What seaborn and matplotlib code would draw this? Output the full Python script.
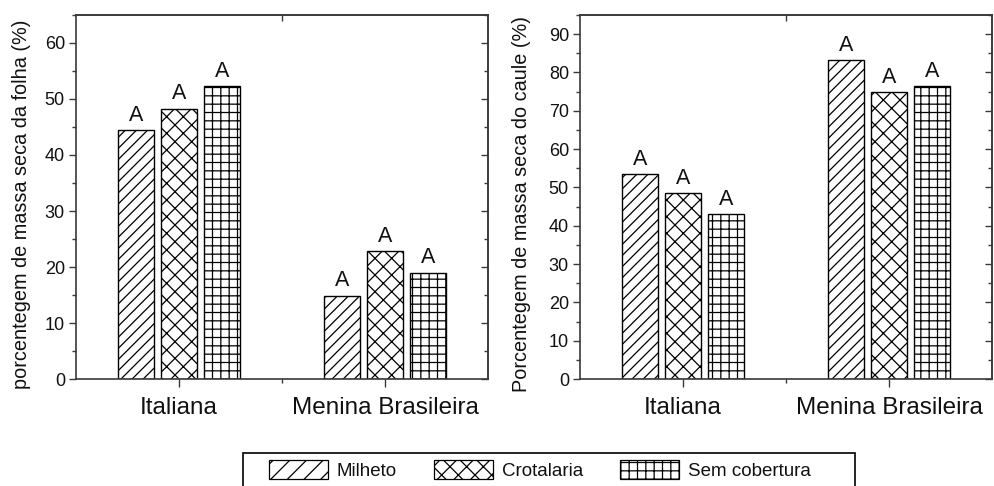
import numpy as np
import pandas as pd
import matplotlib
matplotlib.use("Agg")
import matplotlib.pyplot as plt
import seaborn as sns
from matplotlib.patches import Patch, Rectangle
from matplotlib.ticker import MultipleLocator, FixedLocator, NullFormatter

# ---- data ----
cultivars = ["Italiana", "Menina Brasileira"]
coverings = ["Milheto", "Crotalaria", "Sem cobertura"]
folha_milheto = [44.4, 14.9]
folha_crotalaria = [48.3, 22.9]
folha_sem = [52.3, 19.0]
caule_milheto = [53.5, 83.3]
caule_crotalaria = [48.6, 74.8]
caule_sem = [43.0, 76.4]
letters_folha = [["A", "A"], ["A", "A"], ["A", "A"]]
letters_caule = [["A", "A"], ["A", "A"], ["A", "A"]]
ylabel_folha = "porcentegem de massa seca da folha (%)"
ylabel_caule = "Porcentegem de massa seca do caule (%)"
hatches = ["///", "xx", "++"]


def long_df(a, b, c):
    rows = []
    for cov, vals in zip(coverings, [a, b, c]):
        for cul, v in zip(cultivars, vals):
            rows.append({"cultivar": cul, "cobertura": cov, "valor": v})
    return pd.DataFrame(rows)


df_folha = long_df(folha_milheto, folha_crotalaria, folha_sem)
df_caule = long_df(caule_milheto, caule_crotalaria, caule_sem)

sns.set_theme(style="ticks")
plt.rcParams["font.family"] = ["Liberation Sans", "DejaVu Sans"]
plt.rcParams["hatch.linewidth"] = 0.9
plt.rcParams["hatch.color"] = "black"
plt.rcParams["text.color"] = "#111111"
plt.rcParams["xtick.labelcolor"] = "#111111"
plt.rcParams["ytick.labelcolor"] = "#111111"
plt.rcParams["axes.labelcolor"] = "#111111"

W, H = 994, 486
fig = plt.figure(figsize=(W / 100, H / 100), dpi=100)
ax1 = fig.add_axes([76 / W, 107 / H, 412 / W, 364 / H])
ax2 = fig.add_axes([580 / W, 107 / H, 412 / W, 364 / H])

spine_col = "#3a3a3a"

for ax, df, ymax, ylab, letters, lx in [
    (ax1, df_folha, 65, ylabel_folha, letters_folha, -0.109),
    (ax2, df_caule, 95, ylabel_caule, letters_caule, -0.119),
]:
    sns.barplot(
        data=df, x="cultivar", y="valor", hue="cobertura",
        order=cultivars, hue_order=coverings,
        palette=["white"] * 3, saturation=1,
        width=0.63, gap=0.17, edgecolor="black", linewidth=1.0,
        errorbar=None, legend=False, ax=ax,
    )
    for cont, h, lab in zip(ax.containers, hatches, letters):
        for p in cont:
            p.set_hatch(h)
        ax.bar_label(cont, labels=lab, padding=3, fontsize=15.5)
    ax.set_xlim(-0.5, 1.5)
    ax.set_ylim(0, ymax)
    ax.set_xlabel("")
    ax.set_ylabel(ylab, fontsize=14.3)
    ax.yaxis.set_label_coords(lx, 0.48)
    ax.yaxis.set_major_locator(MultipleLocator(10))
    ax.yaxis.set_minor_locator(MultipleLocator(5))
    ax.xaxis.set_minor_locator(FixedLocator([0.5]))
    ax.tick_params(axis="y", which="major", direction="out", length=5,
                   width=1, labelsize=13, color=spine_col, pad=3)
    ax.tick_params(axis="y", which="minor", direction="out", length=3,
                   width=1, color=spine_col)
    ax.tick_params(axis="x", which="major", direction="out", length=6,
                   width=1, labelsize=17.5, color=spine_col, pad=7)
    ax.tick_params(axis="x", which="minor", direction="out", length=3,
                   width=1, color=spine_col)
    for s in ax.spines.values():
        s.set_color(spine_col)
        s.set_linewidth(1.2)
    # mirrored inward ticks on right and top
    sy = ax.secondary_yaxis("right")
    sy.yaxis.set_major_locator(MultipleLocator(10))
    sy.yaxis.set_minor_locator(MultipleLocator(5))
    sy.yaxis.set_major_formatter(NullFormatter())
    sy.tick_params(which="major", direction="in", length=5, width=1, color=spine_col)
    sy.tick_params(which="minor", direction="in", length=3, width=1, color=spine_col)
    sy.spines["right"].set_color(spine_col)
    sy.spines["right"].set_linewidth(1.2)
    sx = ax.secondary_xaxis("top")
    sx.xaxis.set_major_locator(FixedLocator([0.5]))
    sx.xaxis.set_minor_locator(FixedLocator([]))
    sx.xaxis.set_major_formatter(NullFormatter())
    sx.tick_params(which="major", direction="in", length=4, width=1, color=spine_col)
    sx.spines["top"].set_color(spine_col)
    sx.spines["top"].set_linewidth(1.2)

handles = [Patch(facecolor="white", edgecolor="black", hatch=h, linewidth=0.9)
           for h in ["//", "xx", "++"]]
fig.legend(handles, coverings, loc="center left",
           bbox_to_anchor=(269 / W, 1 - 470 / H), ncol=3, frameon=False,
           fontsize=13.5, handlelength=3.15, handleheight=1.2,
           handletextpad=0.45, columnspacing=2.0, borderpad=0, borderaxespad=0)
fig.add_artist(Rectangle((243 / W, -0.05), (855 - 243) / W, 0.05 + 1 - 453 / H,
                         transform=fig.transFigure, fill=False,
                         edgecolor="black", linewidth=1.2, clip_on=False))

fig.savefig("out.png", dpi=100)
